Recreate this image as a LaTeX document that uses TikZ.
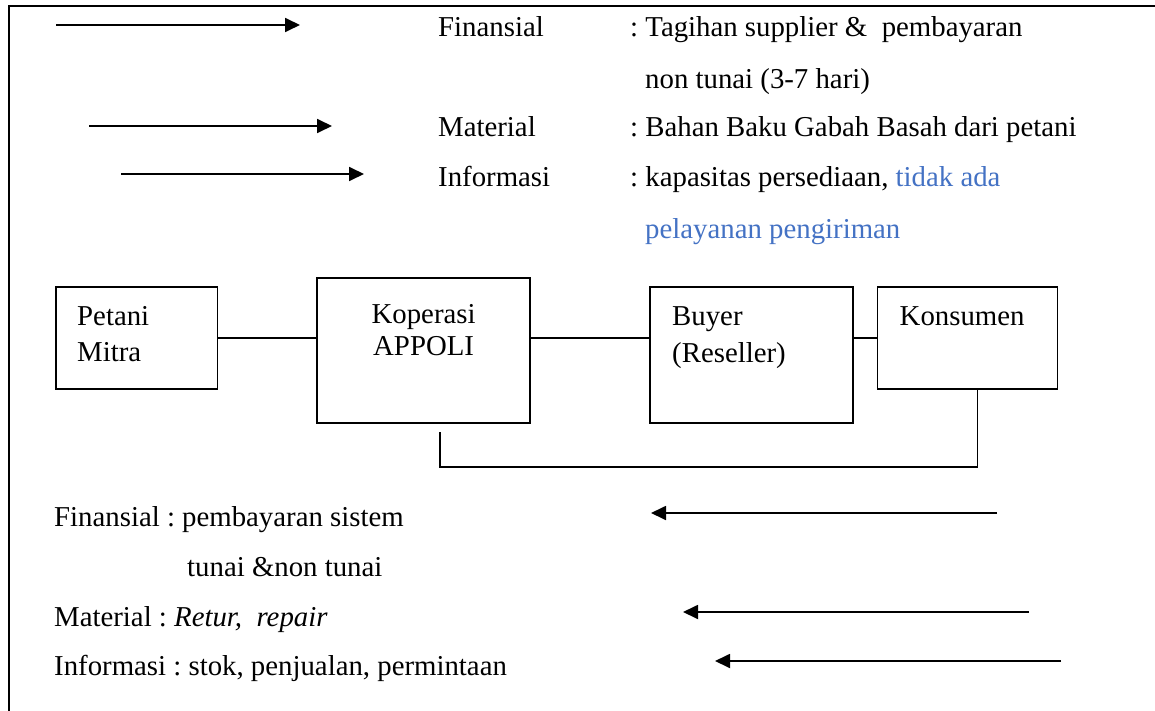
\documentclass[tikz,border=0pt]{standalone}
\usepackage{fontspec}
\setmainfont{Liberation Serif}
\usetikzlibrary{arrows.meta,calc}
\definecolor{accblue}{RGB}{68,114,196}
\begin{document}
\frenchspacing
\begin{tikzpicture}[x=1pt,y=-1pt,
  txt/.style={inner sep=0pt, anchor=base west, font=\fontsize{28.8}{34}\selectfont\frenchspacing},
  box/.style={draw, line width=1.5pt, inner sep=0pt},
  conn/.style={line width=1.5pt},
  arr/.style={line width=1.8pt, -{Triangle[length=15pt,width=14pt]}},
  framestyle/.style={line width=2pt}]
\useasboundingbox (0,0) rectangle (1155,711);
% frame
\coordinate (fbl) at (9,711);
\coordinate (ftl) at (9,6);
\coordinate (ftr) at (1155,6);
\draw[framestyle] (fbl) -- (ftl) -- (ftr);

% top legend arrows
\coordinate (a1s) at (56,25);  \coordinate (a1e) at (300,25);
\coordinate (a2s) at (89,126); \coordinate (a2e) at (332,126);
\coordinate (a3s) at (121,174); \coordinate (a3e) at (364,174);
\draw[arr] (a1s) -- (a1e);
\draw[arr] (a2s) -- (a2e);
\draw[arr] (a3s) -- (a3e);

% top legend texts
\node[txt] (lfin) at (438,37) {Finansial};
\node[txt] (lfin1) at (630,37) {: Tagihan supplier \&~ pembayaran};
\node[txt] (lfin2) at (645,89) {non tunai (3-7 hari)};
\node[txt] (lmat) at (438,137) {Material};
\node[txt] (lmat1) at (630,137) {: Bahan Baku Gabah Basah dari petani};
\node[txt] (linf) at (438,187) {Informasi};
\node[txt] (linf1) at (630,187) {: kapasitas persediaan, \textcolor{accblue}{tidak ada}};
\node[txt, text=accblue] (linf2) at (645,239) {pelayanan pengiriman};

% boxes
\node[box, minimum width=161.5pt, minimum height=102pt] (petani) at (136.75,338) {};
\node[box, minimum width=213pt, minimum height=145pt] (koperasi) at (423.5,350.5) {};
\node[box, minimum width=203pt, minimum height=136pt] (buyer) at (751.5,355) {};
\node[box, minimum width=180pt, minimum height=102pt] (konsumen) at (967.7,338) {};

% box texts
\node[txt] (tpet1) at (77,325) {Petani};
\node[txt] (tpet2) at (77,361) {Mitra};
\node[txt, anchor=base] (tkop1) at (423.6,323) {Koperasi};
\node[txt, anchor=base] (tkop2) at (423.6,355) {APPOLI};
\node[txt] (tbuy1) at (672,325) {Buyer};
\node[txt] (tbuy2) at (672,362) {(Reseller)};
\node[txt] (tkon) at (899.5,325) {Konsumen};

% connectors
\draw[conn] (petani.east) -- (petani.east -| koperasi.west);
\draw[conn] (koperasi.east |- petani.east) -- (buyer.west |- petani.east);
\draw[conn] (buyer.east |- konsumen.west) -- (konsumen.west);
\coordinate (kend) at (440,432);
\coordinate (kx) at (977.5,389);
\draw[conn] (kend) -- (440,467) -| (kx);

% bottom legend texts
\node[txt] (bfin) at (54,526) {Finansial : pembayaran sistem};
\node[txt] (bfin2) at (187,576) {tunai \&non tunai};
\node[txt] (bmat) at (54,626) {Material : \textit{Retur,~ repair}};
\node[txt] (binf) at (54,675) {Informasi : stok, penjualan, permintaan};

% bottom legend arrows
\coordinate (b1s) at (997,513);  \coordinate (b1e) at (651,513);
\coordinate (b2s) at (1029,612); \coordinate (b2e) at (683,612);
\coordinate (b3s) at (1061,661); \coordinate (b3e) at (715,661);
\draw[arr] (b1s) -- (b1e);
\draw[arr] (b2s) -- (b2e);
\draw[arr] (b3s) -- (b3e);
\end{tikzpicture}
\end{document}
